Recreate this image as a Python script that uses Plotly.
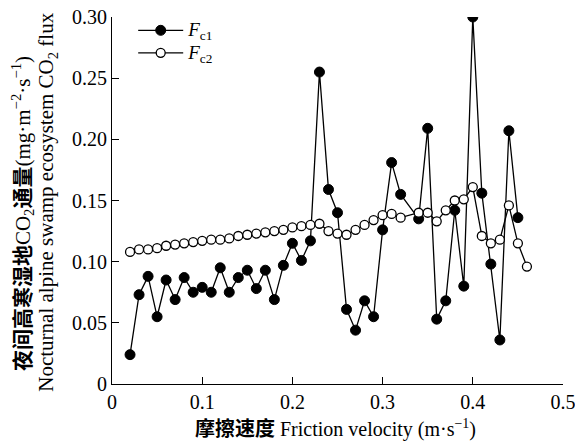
import plotly.graph_objects as go

# Friction velocity (m/s) shared by both series (no point at 0.33)
u_star = [0.02, 0.03, 0.04, 0.05, 0.06, 0.07, 0.08, 0.09, 0.10, 0.11,
          0.12, 0.13, 0.14, 0.15, 0.16, 0.17, 0.18, 0.19, 0.20, 0.21,
          0.22, 0.23, 0.24, 0.25, 0.26, 0.27, 0.28, 0.29, 0.30, 0.31,
          0.32, 0.34, 0.35, 0.36, 0.37, 0.38, 0.39, 0.40, 0.41, 0.42,
          0.43, 0.44, 0.45, 0.46]

fc1 = [0.024, 0.073, 0.088, 0.055, 0.085, 0.069, 0.087, 0.075, 0.079, 0.075,
       0.095, 0.075, 0.087, 0.093, 0.078, 0.093, 0.069, 0.097, 0.115, 0.101,
       0.117, 0.255, 0.159, 0.140, 0.061, 0.044, 0.068, 0.055, 0.126, 0.181,
       0.155, 0.135, 0.209, 0.053, 0.068, 0.142, 0.080, 0.300, 0.156, 0.098,
       0.036, 0.207, 0.136, None]

fc2 = [0.108, 0.110, 0.110, 0.111, 0.113, 0.114, 0.115, 0.116, 0.117, 0.118,
       0.118, 0.119, 0.121, 0.122, 0.123, 0.124, 0.125, 0.126, 0.128, 0.129,
       0.130, 0.131, 0.125, 0.123, 0.122, 0.126, 0.130, 0.134, 0.138, 0.139,
       0.136, 0.140, 0.140, 0.133, 0.142, 0.150, 0.151, 0.161, 0.121, 0.115,
       0.118, 0.146, 0.115, 0.096]

series_names = ["<span style='font-size:19px'><i>F</i><sub>c1</sub></span>",
                "<span style='font-size:19px'><i>F</i><sub>c2</sub></span>"]

x_ticks = [0, 0.1, 0.2, 0.3, 0.4, 0.5]
x_ticktext = ["0", "0.1", "0.2", "0.3", "0.4", "0.5"]
y_ticks = [0, 0.05, 0.10, 0.15, 0.20, 0.25, 0.30]
y_ticktext = ["0", "0.05", "0.10", "0.15", "0.20", "0.25", "0.30"]

FONT = "Liberation Serif, Times New Roman, Noto Sans CJK SC, serif"

fig = go.Figure()
fig.add_trace(go.Scatter(
    x=u_star, y=fc1, mode="lines+markers", name=series_names[0],
    line=dict(color="black", width=1.3),
    marker=dict(symbol="circle", size=10, color="black",
                line=dict(color="black", width=1)),
    cliponaxis=True,
))
fig.add_trace(go.Scatter(
    x=u_star, y=fc2, mode="lines+markers", name=series_names[1],
    line=dict(color="black", width=1.3),
    marker=dict(symbol="circle", size=9, color="white",
                line=dict(color="black", width=1.3)),
    cliponaxis=True,
))

# The page body has an 8px margin, so the figure is sized 8px smaller.
fig.update_layout(
    width=575, height=436,
    margin=dict(l=104, r=20, t=9, b=60, autoexpand=False),
    paper_bgcolor="white", plot_bgcolor="white",
    font=dict(family=FONT, size=20, color="black"),
    showlegend=True,
    legend=dict(x=0.047, y=1.008, xanchor="left", yanchor="top",
                bgcolor="rgba(0,0,0,0)", font=dict(size=15),
                tracegroupgap=0, itemwidth=45),
    xaxis=dict(range=[0, 0.5], tickvals=x_ticks, ticktext=x_ticktext,
               ticks="inside", ticklen=7, tickwidth=1.2, tickcolor="black",
               showline=True, linecolor="black", linewidth=1.2,
               showgrid=False, zeroline=False, mirror=False,
               automargin=False, ticklabeloverflow="allow",
               tickfont=dict(size=20)),
    yaxis=dict(range=[0, 0.30], tickvals=y_ticks, ticktext=y_ticktext,
               ticks="inside", ticklen=7, tickwidth=1.2, tickcolor="black",
               showline=True, linecolor="black", linewidth=1.2,
               showgrid=False, zeroline=False, mirror=False,
               automargin=False, ticklabeloverflow="allow",
               tickfont=dict(size=20)),
    annotations=[
        dict(text="<b>夜间高寒湿地</b>CO<sub>2</sub><b>通量</b>(mg·m<sup>−2</sup>·s<sup>−1</sup>)",
             xref="paper", yref="paper", x=0, y=0.463,
             xanchor="center", yanchor="middle", xshift=-90,
             textangle=-90, showarrow=False, font=dict(size=21)),
        dict(text="Nocturnal alpine swamp ecosystem CO<sub>2</sub> flux",
             xref="paper", yref="paper", x=0, y=0.494,
             xanchor="center", yanchor="middle", xshift=-65,
             textangle=-90, showarrow=False, font=dict(size=21)),
        dict(text="<b>摩擦速度</b> Friction velocity (m·s<sup>−1</sup>)",
             xref="paper", yref="paper", x=0.495, y=0,
             xanchor="center", yanchor="middle", yshift=-44,
             showarrow=False, font=dict(size=20)),
    ],
)

fig.write_html("out.html")
